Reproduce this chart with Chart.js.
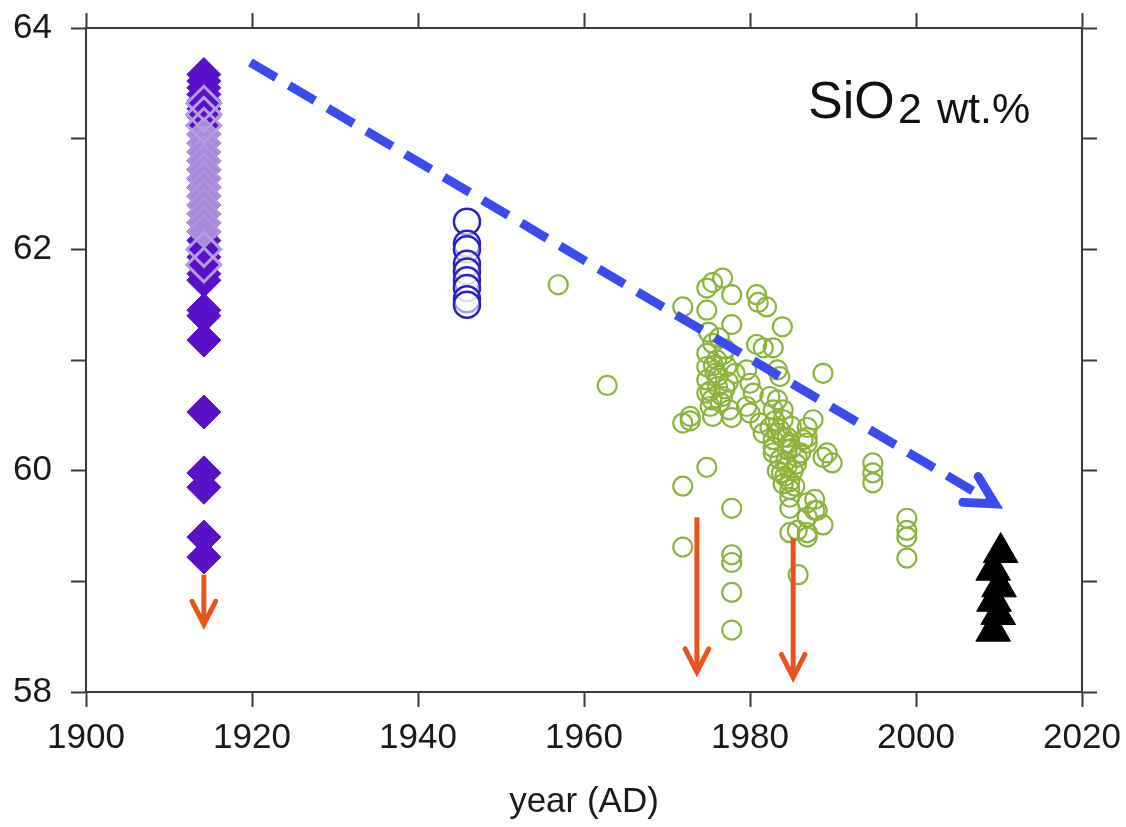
<!DOCTYPE html>
<html>
<head>
<meta charset="utf-8">
<script src="https://cdn.jsdelivr.net/npm/chart.js@4.4.1/dist/chart.umd.min.js"></script>
<style>
  body { margin: 0; background: #fff; }
  #wrap { width: 1126px; height: 827px; }
</style>
</head>
<body>
<div id="wrap"><canvas id="chart" width="1126" height="827"></canvas></div>
<script>
// --- data ---
const yTickLabels = [58, 60, 62, 64];

const diamondYear = 1914.2;
const darkDiamonds = [63.58, 63.52, 63.46, 63.40, 63.34, 63.27, 63.20, 63.12, 63.04, 62.96,
  62.88, 62.80, 62.72, 62.64, 62.56, 62.48, 62.40, 62.32, 62.24, 62.16, 62.08, 62.00,
  61.93, 61.86, 61.78, 61.72, 61.45, 61.40, 61.18, 60.53, 59.98, 59.85, 59.40, 59.22];
const lightDiamondsOpen = [63.32, 63.22, 63.12, 62.00, 61.86];
const lightDiamondsFilled = [63.04, 62.96, 62.88, 62.80, 62.72, 62.64, 62.56, 62.48, 62.40,
  62.32, 62.24, 62.16];

const circleYear1946 = 1945.9;
const blueCircles = [62.25, 62.05, 62.00, 61.87, 61.80, 61.72, 61.65, 61.55, 61.50];

const greenYears = [
  1956.9, 1962.8, 1971.9, 1971.9, 1972.8, 1971.9, 1971.9, 1974.8, 1977.8, 1977.8,
  1977.8, 1977.8, 1977.8, 1985.8, 1974.8, 1975.5, 1976.7, 1977.8, 1974.8, 1977.8,
  1980.8, 1981.0, 1982.0, 1983.9, 1988.8, 1980.8, 1981.6, 1982.8, 1975.5, 1974.8,
  1974.8, 1976.0, 1977.2, 1974.8, 1976.1, 1974.8, 1976.7, 1975.2, 1979.6, 1980.0,
  1983.3, 1983.6, 1982.4, 1983.3, 1982.8, 1984.0, 1979.6, 1980.0, 1981.2, 1984.0,
  1983.6, 1984.5, 1975.5, 1977.8, 1986.9, 1987.6, 1982.8, 1984.5, 1986.4, 1989.3,
  1988.8, 1989.9, 1986.9, 1986.9, 1994.8, 1994.8, 1994.8, 1987.8, 1986.9, 1987.8,
  1986.9, 1988.8, 1986.9, 1998.9, 1998.9, 1998.9, 1998.9, 1984.8, 1984.8, 1988.1,
  1984.8, 1985.7, 1986.9, 1982.4, 1983.3, 1984.0, 1984.8, 1982.8, 1983.6, 1984.5,
  1985.2, 1983.3, 1984.2, 1984.8, 1985.4, 1984.0, 1984.8, 1985.7, 1986.1, 1982.8,
  1981.6, 1975.0, 1976.3, 1977.0, 1975.8, 1977.4, 1975.2, 1976.4, 1977.5, 1975.6,
  1976.8, 1978.2, 1972.8, 1980.4, 1983.0, 1985.0, 1984.3, 1985.0, 1983.8, 1985.6,
  1976.2, 1975.4, 1977.0];
const greenValues = [
  61.68, 60.77, 61.48, 60.43, 60.45, 59.86, 59.31, 60.03, 59.66, 59.24,
  59.17, 58.90, 58.56, 59.06, 61.65, 61.70, 61.74, 61.59, 61.45, 61.32,
  61.59, 61.52, 61.48, 61.30, 60.88, 61.14, 61.11, 61.11, 61.15, 61.06,
  60.94, 61.00, 60.94, 60.82, 60.76, 60.70, 60.67, 60.58, 60.91, 60.79,
  60.91, 60.85, 60.67, 60.64, 60.55, 60.55, 60.58, 60.52, 60.43, 60.46,
  60.37, 60.30, 60.49, 60.48, 60.39, 60.46, 60.21, 60.19, 60.28, 60.16,
  60.12, 60.07, 60.30, 60.25, 60.07, 59.98, 59.89, 59.74, 59.71, 59.64,
  59.58, 59.51, 59.44, 59.57, 59.46, 59.40, 59.21, 59.76, 59.66, 59.64,
  59.44, 59.46, 59.40, 60.39, 60.34, 60.30, 60.25, 60.16, 60.10, 60.04,
  60.00, 60.00, 59.95, 59.90, 59.86, 59.88, 59.83, 60.12, 60.16, 60.28,
  60.34, 61.25, 61.20, 61.10, 60.88, 60.80, 60.72, 60.62, 60.55, 60.95,
  61.05, 60.88, 60.49, 60.70, 60.45, 60.40, 60.08, 60.20, 59.98, 60.06,
  60.86, 60.64, 60.74];

const triangleYears = [2010.2, 2009.3, 2010.0, 2009.4, 2009.9, 2009.3];
const triangleValues = [59.26, 59.10, 58.95, 58.82, 58.70, 58.55];

// arrows (data units)
const redArrowX = [1914.2, 1973.6, 1985.2];
const redArrowFrom = [59.06, 59.58, 59.39];
const redArrowTo = [58.61, 58.18, 58.13];
const trendFrom = [1919.8, 63.69];
const trendTo = [2009.5, 59.70];

const FONT = '"Liberation Sans", Arial, sans-serif';
const AXIS = '#3a3a3a';

function pts(xs, ys) {
  return ys.map((v, i) => ({ x: Array.isArray(xs) ? xs[i] : xs, y: v }));
}

function drawArrow(ctx, x1, y1, x2, y2, o) {
  const ang = Math.atan2(y2 - y1, x2 - x1);
  ctx.save();
  ctx.strokeStyle = o.color;
  ctx.lineWidth = o.width;
  ctx.setLineDash(o.dash || []);
  ctx.lineCap = 'butt';
  ctx.beginPath();
  ctx.moveTo(x1, y1);
  ctx.lineTo(x2 - Math.cos(ang) * o.width * 0.5, y2 - Math.sin(ang) * o.width * 0.5);
  ctx.stroke();
  ctx.setLineDash([]);
  ctx.lineCap = 'round';
  ctx.lineJoin = 'miter';
  ctx.miterLimit = 10;
  ctx.beginPath();
  ctx.moveTo(x2 - o.head * Math.cos(ang - o.spread), y2 - o.head * Math.sin(ang - o.spread));
  ctx.lineTo(x2, y2);
  ctx.lineTo(x2 - o.head * Math.cos(ang + o.spread), y2 - o.head * Math.sin(ang + o.spread));
  ctx.stroke();
  ctx.restore();
}

const arrowPlugin = {
  id: 'arrows',
  afterDatasetsDraw(chart) {
    const { ctx, scales: { x, y } } = chart;
    drawArrow(ctx, x.getPixelForValue(trendFrom[0]), y.getPixelForValue(trendFrom[1]),
      x.getPixelForValue(trendTo[0]), y.getPixelForValue(trendTo[1]),
      { color: '#3a4bf0', width: 9, dash: [30, 15], head: 32, spread: 28 * Math.PI / 180 });
    redArrowX.forEach((yr, i) => {
      const px = x.getPixelForValue(yr);
      drawArrow(ctx, px, y.getPixelForValue(redArrowFrom[i]), px, y.getPixelForValue(redArrowTo[i]),
        { color: '#e8531e', width: 5, head: 26, spread: 27 * Math.PI / 180 });
    });
  },
  afterDraw(chart) {
    const ctx = chart.ctx;
    ctx.save();
    ctx.fillStyle = '#111';
    ctx.textBaseline = 'alphabetic';
    ctx.font = '52px ' + FONT;
    ctx.fillText('SiO', 808, 118);
    ctx.font = '43px ' + FONT;
    ctx.fillText('2', 898, 123);
    ctx.fillText('wt.%', 937, 123);
    ctx.restore();
  }
};

const gridOpts = { drawOnChartArea: false, drawTicks: true, tickLength: 15, tickWidth: 2, tickColor: AXIS };
const borderOpts = { display: true, color: AXIS, width: 2 };
const noPadX = s => { s.paddingLeft = 0; s.paddingRight = 0; };
const noPadY = s => { s.paddingTop = 0; s.paddingBottom = 0; };

new Chart(document.getElementById('chart'), {
  type: 'scatter',
  data: {
    datasets: [
      { label: 'light open', data: pts(diamondYear, lightDiamondsOpen), pointStyle: 'rectRot',
        pointRadius: 17, backgroundColor: 'rgba(0,0,0,0)', borderColor: '#b69de2', borderWidth: 3, order: 1 },
      { label: 'light filled', data: pts(diamondYear, lightDiamondsFilled), pointStyle: 'rectRot',
        pointRadius: 16, backgroundColor: '#a88ad8', borderColor: '#b196dd', borderWidth: 2, order: 2 },
      { label: 'dark', data: pts(diamondYear, darkDiamonds), pointStyle: 'rectRot',
        pointRadius: 17, backgroundColor: '#5a10c8', borderColor: '#5a10c8', borderWidth: 1, order: 3 },
      { label: '1946', data: pts(circleYear1946, blueCircles), pointStyle: 'circle',
        pointRadius: 13, backgroundColor: 'rgba(255,255,255,0.6)', borderColor: '#2a22c0', borderWidth: 2.5, order: 4 },
      { label: 'green', data: pts(greenYears, greenValues), pointStyle: 'circle',
        pointRadius: 9.5, backgroundColor: 'rgba(0,0,0,0)', borderColor: '#8cb43c', borderWidth: 2.2, order: 5 },
      { label: 'black', data: pts(triangleYears, triangleValues), pointStyle: 'triangle',
        pointRadius: 20, backgroundColor: '#000', borderColor: '#000', borderWidth: 1, order: 6 }
    ]
  },
  options: {
    responsive: false,
    animation: false,
    events: [],
    layout: { padding: 0 },
    plugins: { legend: { display: false }, tooltip: { enabled: false } },
    scales: {
      x: {
        type: 'linear', position: 'bottom', min: 1900, max: 2020,
        ticks: { stepSize: 20, padding: 10, color: '#1a1a1a', font: { family: FONT, size: 35 },
          callback: v => String(v) },
        grid: gridOpts, border: borderOpts,
        title: { display: true, text: 'year (AD)', color: '#1a1a1a', font: { family: FONT, size: 35 },
          padding: { top: 0, bottom: 4 } },
        afterFit: s => { s.height = 135; noPadX(s); }
      },
      x2: {
        type: 'linear', position: 'top', min: 1900, max: 2020,
        ticks: { stepSize: 20, display: false },
        grid: gridOpts, border: borderOpts,
        afterFit: s => { s.height = 28; noPadX(s); }
      },
      y: {
        type: 'linear', position: 'left', min: 58, max: 64,
        ticks: { stepSize: 1, padding: 19, color: '#1a1a1a', font: { family: FONT, size: 35 },
          callback: v => yTickLabels.includes(v) ? String(v) : '' },
        grid: gridOpts, border: borderOpts,
        afterFit: s => { s.width = 86; noPadY(s); }
      },
      y2: {
        type: 'linear', position: 'right', min: 58, max: 64,
        ticks: { stepSize: 1, display: false },
        grid: gridOpts, border: borderOpts,
        afterFit: s => { s.width = 44; noPadY(s); }
      }
    }
  },
  plugins: [arrowPlugin]
});
</script>
</body>
</html>
